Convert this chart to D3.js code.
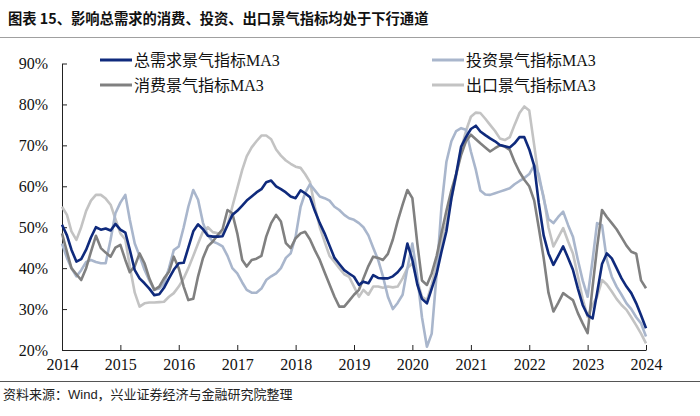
<!DOCTYPE html>
<html><head><meta charset="utf-8">
<script src="https://cdn.jsdelivr.net/npm/d3@7/dist/d3.min.js"></script>
<style>
body{margin:0;background:#fff;}
svg{display:block;}
</style></head>
<body><svg id="c" width="700" height="416"></svg>
<script>
const startYear = 2014;
const yearTicks = [2014,2015,2016,2017,2018,2019,2020,2021,2022,2023,2024];
const yTicks = [20,30,40,50,60,70,80,90];
const seriesNames = ["总需求景气指标MA3","投资景气指标MA3","消费景气指标MA3","出口景气指标MA3"];

// monthly values, 2014-01 .. 2024-01 (%)
const totalDemand = [50.6,48,44.5,41.6,42.2,44.5,47.5,50,49.4,49.7,49.2,50.8,
49.4,48.7,44.5,39.5,37.5,36.3,35,33.4,33.6,35.2,37.5,39.6,
41.2,41.3,45,49,50.7,49.5,47.9,47.7,47.7,47.8,50.5,53,
54,55.3,56.5,57.5,58.5,59.3,61,61.4,60,59.3,58.5,57.5,
57.1,59,58.3,57.3,54,51,48.5,45.5,42.5,41,39.5,38.7,
37.9,35.9,36.7,36.3,38.3,37.6,37.5,37.5,38,39,40.5,46,
42,36,32.5,31.4,35,38.7,44,49,57,63,69.7,72,
74,74.8,73.4,72.5,71.7,71,70.1,69.8,69.5,70.5,72,72,
69,65,56,48,43.6,40.8,43,45.3,42.5,39.6,35,31,
28.5,27.7,33.9,41,43.6,42.4,40,37.5,35.5,33.9,31.4,28.5,
25.3];
const investment = [46,42.5,40,38,39.5,41.5,42,41.5,41.2,41.2,47,53.4,
56,57.9,51.8,46,43,39.6,37,34.7,35,36.3,40,44.4,
45.3,50,55,59.1,56.7,51,48,46.5,46,45.3,43,40,
38.7,36.5,34.7,34,34,35,37.1,38,38.7,40,42.5,43.6,
47.7,55,58.3,60.5,59,57.5,57.1,56.5,55,54.2,53,52.2,
51.8,51,50,48,45,42,38,33,30,31.5,33.5,40,
46,38,28,20.8,24,38.7,55,66,71,73.5,74.2,73.8,
68.5,64,59,58,57.9,58.3,58.7,59.1,59.5,60.5,61.3,62,
63,65.2,63,57,52,51,52.5,53.8,50.5,47.7,42,37,
33,42,51,50.5,42,37.9,35.5,33.5,31.4,30,28,26.5,
23.3];
const consumption = [48.5,44,40,38.5,37.1,40,44,47.9,44.9,43.8,42.8,45,
45.7,42,39,40.5,43.6,41.2,37.5,34.7,35.5,37.5,39.1,42.8,
40,35.5,32.2,32.5,38,42.5,45.3,46.5,48.1,49.5,54.2,53.4,
48.5,42,40.4,42,42.3,43,47.7,51,53,51.4,46.1,44.9,
47.3,48.5,48.9,47,44.4,42,39,36,33,30.6,30.6,32,
33.5,34.7,37.5,40.5,42.8,42.5,42,43.5,47,51.5,55.5,59.1,
57.1,46,37,35.9,38.7,43,48.5,54,59,63,67.7,71,
72.6,71.5,70.5,69.5,68.5,69.3,70,69.7,68.9,66,63.5,61.6,
60,56.5,50,42.5,34,29.4,31.5,33.9,33,32.2,29,26.5,
24.1,35.5,45,54.2,52.5,51,49.5,47.5,45.5,44,43.5,37,
35.1];
const exportIdx = [55,53,49,46.9,50,54,56.5,57.9,57.9,57,55.5,52,
48.5,47,40.4,34,30.6,31.4,31.6,31.6,31.7,31.8,33,33.9,
35.5,37.5,40,43,46,49,50,48.8,48.5,48.5,50.5,55,
59.5,64,67.3,69.5,71,72.4,72.4,71.5,69,67.5,66.3,65.5,
64.8,64.5,63,61,55,50,46.5,43,41.5,40,38.5,37.9,
35.5,33,34.7,33.5,35.5,35.5,35.2,35.5,35.3,35.5,37.5,40,
41.2,37,33,32.2,36,41,46.1,51,57,62.5,69,73.5,
77,78,77.9,76.5,75,73.5,71.7,71.3,72,75,77.9,79.5,
78.5,70,62,57.5,50,45.3,47.5,49.8,46.5,43.6,38,32.5,
28.1,31,33,37.1,36,34.3,32.5,31,29.8,28,26,24,
21.6];

const svg = d3.select("#c");
const cjk = "'Liberation Serif','Noto Sans CJK SC',serif";

// title
svg.append("text").attr("x",8).attr("y",24)
  .attr("font-family","'Noto Sans CJK SC',sans-serif").attr("font-weight","bold")
  .attr("font-size",14.3).attr("fill","#111")
  .text("图表 15、影响总需求的消费、投资、出口景气指标均处于下行通道");
svg.append("line").attr("x1",0).attr("x2",700).attr("y1",37.5).attr("y2",37.5)
  .attr("stroke","#a0a0a0").attr("stroke-width",1);
svg.append("line").attr("x1",0).attr("x2",700).attr("y1",381.5).attr("y2",381.5)
  .attr("stroke","#555").attr("stroke-width",1);
svg.append("text").attr("x",3).attr("y",399)
  .attr("font-family","'Liberation Sans','Noto Sans CJK SC',sans-serif")
  .attr("font-size",13).attr("fill","#222")
  .text("资料来源：Wind，兴业证券经济与金融研究院整理");

const x = d3.scaleTime().domain([new Date(startYear,0,1), new Date(2024,0,1)]).range([62,646]);
const y = d3.scaleLinear().domain([20,90]).range([350,63.5]);

const xAxis = d3.axisBottom(x)
  .tickValues(yearTicks.map(v=>new Date(v,0,1)))
  .tickFormat(d3.timeFormat("%Y")).tickSize(-5).tickSizeOuter(0).tickPadding(9);
const gx = svg.append("g").attr("transform","translate(0,350)").call(xAxis);
const yAxis = d3.axisLeft(y).tickValues(yTicks).tickFormat(d=>d+"%")
  .tickSize(-5).tickSizeOuter(0).tickPadding(14);
const gy = svg.append("g").attr("transform","translate(62,0)").call(yAxis);
[gx,gy].forEach(g=>{
  g.selectAll("path,line").attr("stroke","#222");
  g.selectAll("text").attr("font-family","'Liberation Serif',serif").attr("font-size",16).attr("fill","#111");
});

const series = [
  {name:seriesNames[3], values:exportIdx, color:"#c3c3c3"},
  {name:seriesNames[1], values:investment, color:"#a9b6cc"},
  {name:seriesNames[2], values:consumption, color:"#808080"},
  {name:seriesNames[0], values:totalDemand, color:"#0f2a7c"}
];
const line = d3.line().x((d,i)=>x(new Date(startYear,i,1))).y(d=>y(d));
series.forEach(s=>{
  svg.append("path").datum(s.values).attr("d",line)
    .attr("fill","none").attr("stroke",s.color).attr("stroke-width",2.6)
    .attr("stroke-linejoin","round");
});

// legend
const legend = [
  {name:seriesNames[0], color:"#0f2a7c", x:100, y:60},
  {name:seriesNames[1], color:"#a9b6cc", x:432, y:60},
  {name:seriesNames[2], color:"#808080", x:100, y:85},
  {name:seriesNames[3], color:"#c3c3c3", x:432, y:85}
];
const lg = svg.append("g");
legend.forEach(l=>{
  lg.append("line").attr("x1",l.x).attr("x2",l.x+32).attr("y1",l.y).attr("y2",l.y)
    .attr("stroke",l.color).attr("stroke-width",3);
  lg.append("text").attr("x",l.x+34).attr("y",l.y).attr("dy","0.36em")
    .attr("font-family",cjk).attr("font-size",16).attr("fill","#111").text(l.name);
});
</script></body></html>
